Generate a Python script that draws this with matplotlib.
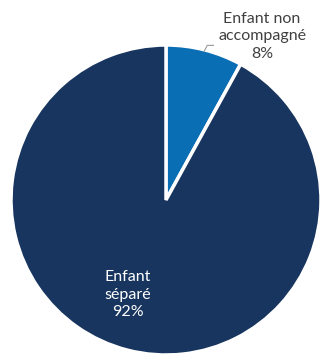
import numpy as np
import matplotlib.pyplot as plt

plt.rcParams['font.family'] = ['Lato', 'DejaVu Sans']

labels = ["Enfant non\naccompagné", "Enfant\nséparé"]
shares = [8, 92]
colors = ["#0A6EB4", "#17355E"]

fig = plt.figure(figsize=(3.27, 3.61), dpi=100)
ax = fig.add_axes([0, 0, 1, 1])
scale = 155.0
cx, cy = 166.0, 200.0

wedges, _ = ax.pie(shares, colors=colors, startangle=90, counterclock=False,
                   radius=1.0, wedgeprops=dict(edgecolor='white', linewidth=2.5),
                   frame=False)
ax.set_xlim(-cx / scale, (327 - cx) / scale)
ax.set_ylim(-(361 - cy) / scale, cy / scale)
ax.set_aspect('auto')
ax.axis('off')

# label of the small slice, outside with a leader line
w = wedges[0]
mid = np.deg2rad((w.theta1 + w.theta2) / 2)
p0 = (0.99 * np.cos(mid), 0.99 * np.sin(mid))
p1 = (1.03 * np.cos(mid) + 0.01, 1.03 * np.sin(mid))
p2 = (p1[0] + 0.04, p1[1])
ax.plot([p0[0], p1[0], p2[0]], [p0[1], p1[1], p2[1]], color='#999999', lw=0.8)
ax.text(0.62, 1.055, f"{labels[0]}\n{shares[0]}%", ha='center', va='center',
        fontsize=11.5, color='#404040', linespacing=1.3)

# label of the large slice, inside
ax.text(-0.245, -0.61, f"{labels[1]}\n{shares[1]}%", ha='center', va='center',
        fontsize=11.5, color='white', linespacing=1.3)

fig.savefig('out.png', dpi=100)
